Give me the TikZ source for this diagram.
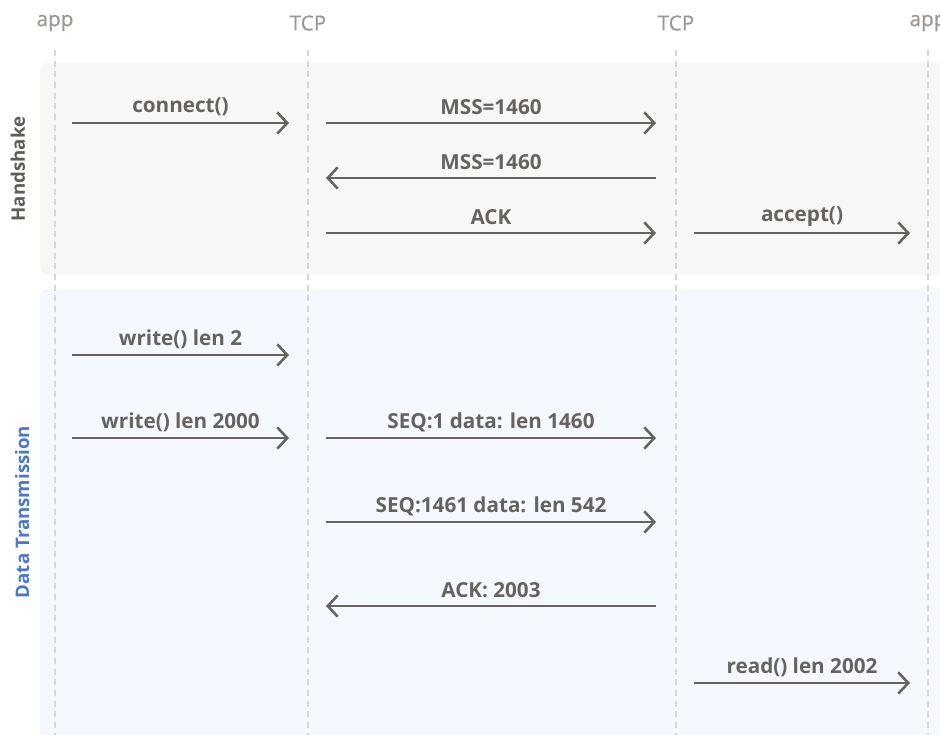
\documentclass[tikz,border=0pt]{standalone}
\usepackage{fontspec}
\setmainfont{Open Sans}
\newfontfamily\headfont{Open Sans}[FakeBold=0.6]
\usetikzlibrary{arrows.meta}
\definecolor{hsbg}{HTML}{F8F7F5}
\definecolor{dtbg}{HTML}{F5F8FE}
\definecolor{lifec}{HTML}{D9D6D1}
\definecolor{arrc}{HTML}{65625F}
\definecolor{headc}{HTML}{9C9792}
\definecolor{hslab}{HTML}{5F5C59}
\definecolor{dtlab}{HTML}{4A78CC}
\tikzset{
  lifeline/.style={draw=lifec, line width=1.6pt, dash pattern=on 4.5pt off 3.5pt},
  msg/.style={draw=arrc, line width=1.9pt, -{Straight Barb[length=7.5pt,width=16pt,line width=1.9pt]}},
  msglab/.style={text=arrc, font=\fontsize{15.5}{18}\selectfont\bfseries, inner sep=0pt, yshift=12pt},
  head/.style={text=headc, font=\headfont\fontsize{15.5}{18}\selectfont, inner sep=0pt},
  sidelab/.style={font=\fontsize{14}{16}\selectfont\bfseries, rotate=90, inner sep=0pt},
  band/.style={rounded corners=6pt},
}
\begin{document}
\begin{tikzpicture}[x=0.75pt,y=-0.75pt]
\useasboundingbox (0,0) rectangle (940,735);
\begin{scope}
\clip (0,0) rectangle (940,735);
\fill[hsbg, band] (40,63) rectangle (960,275);
\fill[dtbg, band] (40,289) rectangle (960,760);
% headers
\node[head] (h1) at (55,23) {app};
\node[head] (h2) at (308,23) {TCP};
\node[head] (h3) at (676,23) {TCP};
\node[head] (h4) at (928,23) {app};
% lifelines
\coordinate (l1t) at (55,50); \coordinate (l1b) at (55,735);
\coordinate (l2t) at (308,50); \coordinate (l2b) at (308,735);
\coordinate (l3t) at (676,50); \coordinate (l3b) at (676,735);
\coordinate (l4t) at (928,50); \coordinate (l4b) at (928,735);
\draw[lifeline] (l1t) -- (l1b);
\draw[lifeline] (l2t) -- (l2b);
\draw[lifeline] (l3t) -- (l3b);
\draw[lifeline] (l4t) -- (l4b);
\end{scope}
% band labels
\node[sidelab, text=hslab] (lhs) at (18,169) {Handshake};
\node[sidelab, text=dtlab] (ldt) at (22,512) {Data Transmission};
% message endpoints
\coordinate (m1a) at (72,123);  \coordinate (m1b) at (289,123);
\coordinate (m2a) at (326,123); \coordinate (m2b) at (656,123);
\coordinate (m3a) at (656,178); \coordinate (m3b) at (326,178);
\coordinate (m4a) at (326,233); \coordinate (m4b) at (656,233);
\coordinate (m5a) at (694,233); \coordinate (m5b) at (910,233);
\coordinate (m6a) at (72,355);  \coordinate (m6b) at (289,355);
\coordinate (m7a) at (72,438);  \coordinate (m7b) at (289,438);
\coordinate (m8a) at (326,438); \coordinate (m8b) at (656,438);
\coordinate (m9a) at (326,522); \coordinate (m9b) at (656,522);
\coordinate (m10a) at (656,606); \coordinate (m10b) at (326,606);
\coordinate (m11a) at (694,683); \coordinate (m11b) at (910,683);
\draw[msg] (m1a) -- node[msglab] (t1) {connect()} (m1b);
\draw[msg] (m2a) -- node[msglab] (t2) {MSS=1460} (m2b);
\draw[msg] (m3a) -- node[msglab] (t3) {MSS=1460} (m3b);
\draw[msg] (m4a) -- node[msglab] (t4) {ACK} (m4b);
\draw[msg] (m5a) -- node[msglab] (t5) {accept()} (m5b);
\draw[msg] (m6a) -- node[msglab] (t6) {write() len 2} (m6b);
\draw[msg] (m7a) -- node[msglab] (t7) {write() len 2000} (m7b);
\draw[msg] (m8a) -- node[msglab] (t8) {SEQ:1 data: len 1460} (m8b);
\draw[msg] (m9a) -- node[msglab] (t9) {SEQ:1461 data: len 542} (m9b);
\draw[msg] (m10a) -- node[msglab] (t10) {ACK: 2003} (m10b);
\draw[msg] (m11a) -- node[msglab] (t11) {read() len 2002} (m11b);
\end{tikzpicture}
\end{document}
